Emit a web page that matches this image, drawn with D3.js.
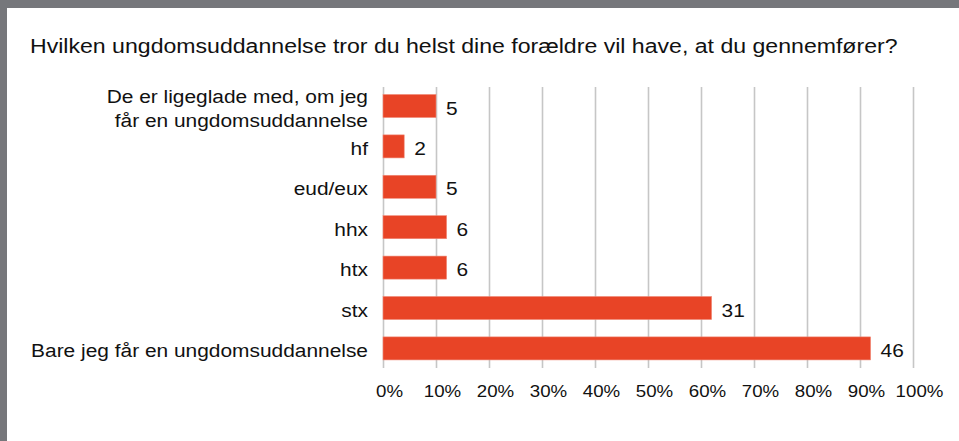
<!DOCTYPE html>
<html>
<head>
<meta charset="utf-8">
<script src="https://cdn.jsdelivr.net/npm/d3@7"></script>
<style>
  html, body { margin: 0; padding: 0; background: #fff; }
  svg { display: block; font-family: "Liberation Sans", Arial, Helvetica, sans-serif; }
</style>
</head>
<body>
<svg width="959" height="441"></svg>
<script>
const svg = d3.select("svg");
const width = +svg.attr("width");
const height = +svg.attr("height");

const title = "Hvilken ungdomsuddannelse tror du helst dine forældre vil have, at du gennemfører?";
const categories = [
    ["De er ligeglade med, om jeg", "får en ungdomsuddannelse"],
    ["hf"],
    ["eud/eux"],
    ["hhx"],
    ["htx"],
    ["stx"],
    ["Bare jeg får en ungdomsuddannelse"]
];
const counts = [5, 2, 5, 6, 6, 31, 46];
const respondents = 50;
const tickValues = [0, 0.1, 0.2, 0.3, 0.4, 0.5, 0.6, 0.7, 0.8, 0.9, 1];

// the source text is a bit wider than Liberation Sans, so stretch it
const stretch = 1.1;
const place = (x, y) => `translate(${x},${y}) scale(${stretch},1)`;

// frame
svg.append("rect").attr("width", width).attr("height", height).attr("fill", "#76777b");
svg.append("rect").attr("x", 7).attr("y", 8).attr("width", width - 7).attr("height", height - 8).attr("fill", "#fff");

svg.append("text")
    .attr("transform", place(30, 53))
    .attr("font-size", 21)
    .attr("fill", "#111")
    .text(title);

const x = d3.scaleLinear().domain([0, 1]).range([383, 913]);
const y = d3.scaleBand()
    .domain(d3.range(categories.length))
    .range([86.4, 368])
    .paddingInner(0.43)
    .paddingOuter(0.2);

// grid + tick labels
const axis = svg.append("g")
    .attr("transform", "translate(0,87)")
    .call(d3.axisBottom(x)
        .tickValues(tickValues)
        .tickFormat(d3.format(".0%"))
        .tickSize(281)
        .tickPadding(17));
axis.select(".domain").remove();
axis.selectAll(".tick line").attr("stroke", "#c6c6c6").attr("stroke-width", 1.6);
axis.selectAll(".tick text")
    .attr("font-size", 17)
    .attr("fill", "#111")
    .attr("font-family", null)
    .attr("transform", `translate(6,0) scale(${stretch},1)`);

// bars
svg.append("g").selectAll("rect")
    .data(counts)
    .join("rect")
    .attr("x", x(0))
    .attr("y", (d, i) => y(i))
    .attr("width", d => x(d / respondents) - x(0))
    .attr("height", y.bandwidth())
    .attr("fill", "#e84426")
    .attr("stroke", "#f08a78")
    .attr("stroke-width", 0.6);

// value labels
svg.append("g").selectAll("text")
    .data(counts)
    .join("text")
    .attr("transform", (d, i) => place(x(d / respondents) + 10, y(i) + y.bandwidth() / 2))
    .attr("dy", "0.45em")
    .attr("font-size", 19)
    .attr("fill", "#111")
    .text(d => d);

// category labels
const labels = svg.append("g").selectAll("text")
    .data(categories)
    .join("text")
    .attr("text-anchor", "end")
    .attr("font-size", 19)
    .attr("fill", "#111")
    .attr("transform", (d, i) => place(368, y(i) + y.bandwidth() / 2));

labels.selectAll("tspan")
    .data(d => d.map((line, k) => ({ line, k, n: d.length })))
    .join("tspan")
    .attr("x", 0)
    .attr("dy", d => d.k === 0 ? `${0.45 - (d.n - 1) * 0.63}em` : "1.26em")
    .text(d => d.line);
</script>
</body>
</html>
